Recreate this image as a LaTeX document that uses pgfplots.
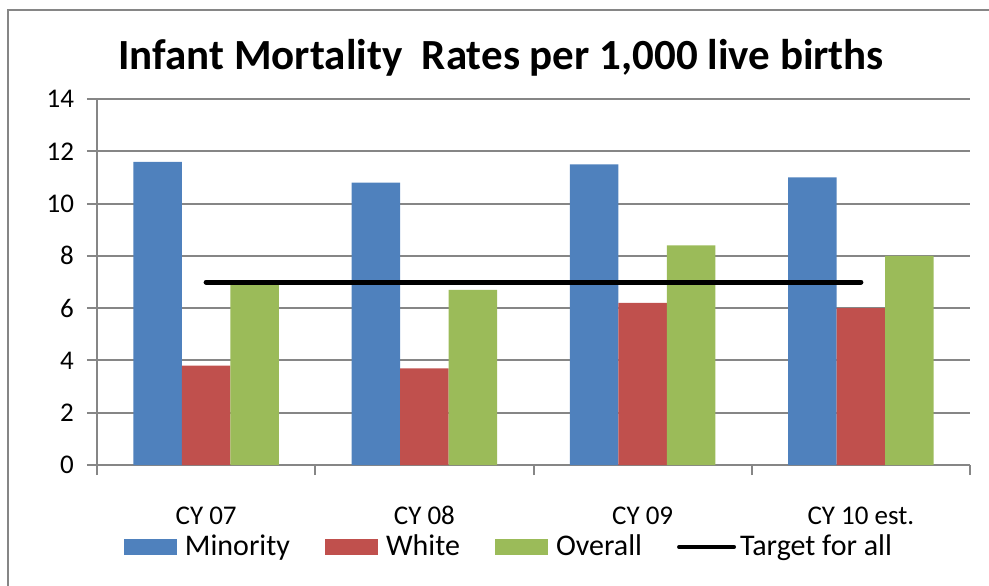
\documentclass[border=0pt]{standalone}
\usepackage{pgfplots}
\pgfplotsset{compat=1.18}
\usepackage{fontspec}
\setmainfont{Carlito}
\definecolor{cMin}{RGB}{79,129,189}
\definecolor{cWhi}{RGB}{192,80,77}
\definecolor{cOve}{RGB}{155,187,89}
\definecolor{gridc}{RGB}{134,134,134}
\begin{document}
\begin{tikzpicture}
\begin{axis}[
  at={(48.5pt,60pt)}, anchor=south west,
  scale only axis, width=436.5pt, height=183pt,
  xmin=-0.5, xmax=3.5, ymin=0, ymax=14,
  ytick={0,2,...,14},
  axis lines*=left,
  axis line style={gridc, line width=1pt},
  ymajorgrids, grid style={gridc, line width=1pt},
  tick align=outside, major tick length=5pt,
  tick style={gridc, line width=1pt},
  xtick={-0.5,0.5,1.5,2.5,3.5}, xticklabels={},
  extra x ticks={0,1,2,3},
  extra x tick labels={CY 07,CY 08,CY 09,CY 10 est.},
  extra x tick style={major tick length=0pt, grid=none},
  /pgf/number format/assume math mode=true,
  tick label style={font=\fontsize{13.5}{16}\selectfont, black},
  xticklabel style={anchor=base, yshift=-29.5pt},
  yticklabel style={xshift=-3pt},
  title={Infant Mortality~ Rates per 1,000 live births},
  title style={font=\bfseries\fontsize{21.5}{24}\selectfont, at={(0.463,1)}, anchor=base, yshift=9pt},
  legend columns=4,
  legend style={at={(0.473,-0.224)}, anchor=center, draw=none, fill=none,
    font=\fontsize{15}{17}\selectfont,
    /tikz/every even column/.append style={column sep=15.5pt}},
]
\addplot[ybar, bar width=24.25pt, bar shift=-24.25pt, fill=cMin, draw=none,
  legend image code/.code={\fill[cMin] (0pt,-4pt) rectangle (26.5pt,4pt); \path (28.5pt,0pt);}]
  coordinates {(0,11.6) (1,10.8) (2,11.5) (3,11.0)};
\addplot[ybar, bar width=24.25pt, bar shift=0pt, fill=cWhi, draw=none,
  legend image code/.code={\fill[cWhi] (0pt,-4pt) rectangle (26.5pt,4pt); \path (28.5pt,0pt);}]
  coordinates {(0,3.8) (1,3.7) (2,6.2) (3,6.0)};
\addplot[ybar, bar width=24.25pt, bar shift=24.25pt, fill=cOve, draw=none,
  legend image code/.code={\fill[cOve] (0pt,-4pt) rectangle (26.5pt,4pt); \path (28.5pt,0pt);}]
  coordinates {(0,7.0) (1,6.7) (2,8.4) (3,8.0)};
\addplot[black, line width=2.5pt, line cap=round, mark=none, sharp plot,
  legend image code/.code={\draw[black, line width=2pt, line cap=round] (0pt,0pt) -- (27.5pt,0pt);}]
  coordinates {(0,7) (1,7) (2,7) (3,7)};
\legend{Minority,White,Overall,Target for all}
\end{axis}
\pgfresetboundingbox
\path[use as bounding box] (0,0) rectangle (494.5pt,292.5pt);
\draw[gridc, line width=1pt] (4pt,-5pt) -- (4pt,287.5pt) -- (494.5pt,287.5pt);
\end{tikzpicture}
\end{document}
